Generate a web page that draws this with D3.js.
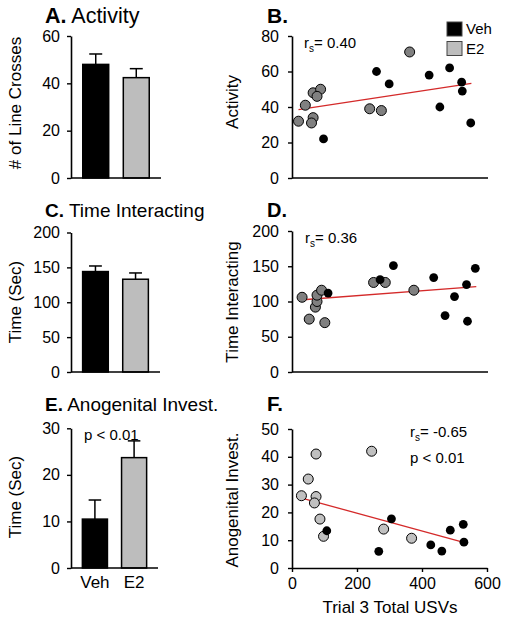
<!DOCTYPE html>
<html><head><meta charset="utf-8">
<script src="https://cdn.jsdelivr.net/npm/d3@7"></script>
<style>
body{margin:0;background:#fff;}
svg{display:block;font-family:"Liberation Sans",Arial,Helvetica,sans-serif;}
</style></head>
<body>
<script>
// ---------- data ----------
const groups = ["Veh", "E2"];
const activityMean = [48, 42.4];
const activitySem = [4.4, 3.8];
const interactMean = [144, 133];
const interactSem = [8, 9];
const anogenMean = [10.5, 23.7];
const anogenSem = [4.1, 3.6];

const yTicksA = [0, 20, 40, 60];
const yTicksC = [0, 50, 100, 150, 200];
const yTicksE = [0, 10, 20, 30];
const yTicksB = [0, 20, 40, 60, 80];
const yTicksD = [0, 50, 100, 150, 200];
const yTicksF = [0, 10, 20, 30, 40, 50];
const xTicksUSV = [0, 200, 400, 600];

// Activity vs USVs
const e2X_B = [20, 41, 65, 88, 77, 65, 60, 239, 275, 362];
const e2Y_B = [32, 41, 48, 50, 46, 34, 31, 39, 38, 71];
const vehX_B = [97, 260, 299, 422, 455, 485, 522, 524, 550];
const vehY_B = [22, 60, 53, 58, 40, 62, 54, 49, 31];
const fitX_B = [20, 552], fitY_B = [38.5, 53.3];

// Time interacting vs USVs
const e2X_D = [31, 53, 72, 77, 77, 91, 101, 251, 287, 375];
const e2Y_D = [106, 75, 92, 100, 109, 116, 70, 127, 127, 116];
const vehX_D = [111, 271, 312, 436, 471, 500, 537, 540, 564];
const vehY_D = [112, 131, 151, 134, 80, 107, 124, 72, 147];
const fitX_D = [34, 567], fitY_D = [102.5, 121];

// Anogenital investigation vs USVs
const e2X_F = [29, 50, 74, 74, 69, 86, 97, 245, 282, 368];
const e2Y_F = [26, 32, 41, 25.7, 23.4, 17.6, 11.4, 42, 14, 10.7];
const vehX_F = [107, 267, 306, 427, 461, 487, 527, 529];
const vehY_F = [13.4, 6, 17.7, 8.3, 6.1, 13.6, 15.7, 9.3];
const fitX_F = [13, 528], fitY_F = [25.7, 9.2];

// ---------- drawing ----------
const W = 507, H = 621;
const svg = d3.select("body").append("svg").attr("width", W).attr("height", H);
const FONT_TICK = 16, FONT_LABEL = 17;
const BAR_FILL = ["#000000", "#bdbdbd"];

function title(x, y, letter, text, size) {
  const t = svg.append("text").attr("x", x).attr("y", y).attr("font-size", size).attr("fill", "#000");
  t.append("tspan").attr("font-weight", "bold").text(letter);
  if (text) t.append("tspan").text(" " + text);
}

function yLabel(x, cy, text) {
  svg.append("text").attr("transform", `translate(${x},${cy}) rotate(-90)`)
    .attr("text-anchor", "middle").attr("font-size", FONT_LABEL).text(text);
}

function styleAxis(g) {
  g.selectAll("path.domain").attr("stroke", "#000").attr("stroke-width", 1.6);
  g.selectAll(".tick line").attr("stroke", "#000").attr("stroke-width", 1.4);
  g.selectAll(".tick text").attr("font-size", FONT_TICK).attr("fill", "#000")
    .attr("font-family", "Liberation Sans, Arial, sans-serif");
}

function barPanel(cfg) {
  const y = d3.scaleLinear().domain(cfg.yDomain).range([cfg.bottom, cfg.top]);
  const x = d3.scaleBand().domain(groups).range([cfg.left, cfg.right]).paddingInner(0.36).paddingOuter(0.29);
  const g = svg.append("g");
  g.selectAll("rect.bar").data(groups).join("rect")
    .attr("x", d => x(d)).attr("width", x.bandwidth())
    .attr("y", (d, i) => y(cfg.mean[i])).attr("height", (d, i) => y(0) - y(cfg.mean[i]))
    .attr("fill", (d, i) => BAR_FILL[i]).attr("stroke", "#000").attr("stroke-width", 1.5);
  groups.forEach((d, i) => {
    const cx = x(d) + x.bandwidth() / 2;
    const cap = x.bandwidth() / 4;
    g.append("line").attr("x1", cx).attr("x2", cx)
      .attr("y1", y(cfg.mean[i])).attr("y2", y(cfg.mean[i] + cfg.sem[i]))
      .attr("stroke", "#000").attr("stroke-width", 1.5);
    g.append("line").attr("x1", cx - cap).attr("x2", cx + cap)
      .attr("y1", y(cfg.mean[i] + cfg.sem[i])).attr("y2", y(cfg.mean[i] + cfg.sem[i]))
      .attr("stroke", "#000").attr("stroke-width", 1.5);
  });
  const ya = svg.append("g").attr("transform", `translate(${cfg.left},0)`)
    .call(d3.axisLeft(y).tickValues(cfg.ticks).tickSize(4).tickSizeOuter(0).tickPadding(7));
  styleAxis(ya);
  svg.append("line").attr("x1", cfg.left).attr("x2", cfg.right).attr("y1", y(0)).attr("y2", y(0))
    .attr("stroke", "#000").attr("stroke-width", 1.6);
  if (cfg.xLabels) {
    svg.append("g").selectAll("text").data(groups).join("text")
      .attr("x", d => x(d) + x.bandwidth() / 2).attr("y", cfg.bottom + 20)
      .attr("text-anchor", "middle").attr("font-size", FONT_LABEL).text(d => d);
  }
  return { x, y };
}

const xUSV = d3.scaleLinear().domain([0, 600]).range([292, 487]);

function rsText(x, y, value) {
  const t = svg.append("text").attr("x", x).attr("y", y).attr("font-size", 15);
  t.append("tspan").text("r");
  t.append("tspan").attr("font-size", 10).attr("dy", 4).text("s");
  t.append("tspan").attr("dy", -4).text("= " + value);
}

function scatterPanel(cfg) {
  const y = d3.scaleLinear().domain(cfg.yDomain).range([cfg.bottom, cfg.top]);
  svg.append("line")
    .attr("x1", xUSV(cfg.fitX[0])).attr("y1", y(cfg.fitY[0]))
    .attr("x2", xUSV(cfg.fitX[1])).attr("y2", y(cfg.fitY[1]))
    .attr("stroke", "#d42a2a").attr("stroke-width", 1.3);
  svg.append("g").selectAll("circle").data(cfg.e2X).join("circle")
    .attr("cx", d => xUSV(d)).attr("cy", (d, i) => y(cfg.e2Y[i])).attr("r", 5)
    .attr("fill", cfg.grayFill).attr("stroke", "#000").attr("stroke-width", 1);
  svg.append("g").selectAll("circle").data(cfg.vehX).join("circle")
    .attr("cx", d => xUSV(d)).attr("cy", (d, i) => y(cfg.vehY[i])).attr("r", 4.4)
    .attr("fill", "#000");
  const ya = svg.append("g").attr("transform", "translate(292,0)")
    .call(d3.axisLeft(y).tickValues(cfg.ticks).tickSize(4).tickSizeOuter(0).tickPadding(9));
  styleAxis(ya);
  if (cfg.xTicks) {
    const xa = svg.append("g").attr("transform", `translate(0,${cfg.bottom})`)
      .call(d3.axisBottom(xUSV).tickValues(cfg.xTicks).tickSize(4).tickSizeOuter(0).tickPadding(6));
    styleAxis(xa);
  } else {
    svg.append("line").attr("x1", 292).attr("x2", 488).attr("y1", cfg.bottom).attr("y2", cfg.bottom)
      .attr("stroke", "#000").attr("stroke-width", 1.6);
  }
  return y;
}

// Row 1
title(45, 23, "A.", "Activity", 21.5);
yLabel(21, 103, "# of Line Crosses");
barPanel({ yDomain: [0, 60], top: 36, bottom: 178, left: 71, right: 161, mean: activityMean, sem: activitySem, ticks: yTicksA });

title(267, 23, "B.", "", 21);
yLabel(238, 102, "Activity");
scatterPanel({ yDomain: [0, 80], top: 36, bottom: 178, ticks: yTicksB, e2X: e2X_B, e2Y: e2Y_B, vehX: vehX_B, vehY: vehY_B,
  fitX: fitX_B, fitY: fitY_B, grayFill: "#808080" });
rsText(304, 48, "0.40");

const legend = svg.append("g");
legend.selectAll("rect").data(groups).join("rect")
  .attr("x", 447).attr("y", (d, i) => 22 + i * 19.5).attr("width", 15).attr("height", 14)
  .attr("fill", (d, i) => BAR_FILL[i]).attr("stroke", "#444").attr("stroke-width", 1);
legend.selectAll("text").data(groups).join("text")
  .attr("x", 466).attr("y", (d, i) => 34 + i * 19.5).attr("font-size", 15).text(d => d);

// Row 2
title(45, 217, "C.", "Time Interacting", 19);
yLabel(21, 302, "Time (Sec)");
barPanel({ yDomain: [0, 200], top: 232.5, bottom: 372, left: 71, right: 160, mean: interactMean, sem: interactSem, ticks: yTicksC });

title(267, 217, "D.", "", 20);
yLabel(238, 302, "Time Interacting");
scatterPanel({ yDomain: [0, 200], top: 231, bottom: 372, ticks: yTicksD, e2X: e2X_D, e2Y: e2Y_D, vehX: vehX_D, vehY: vehY_D,
  fitX: fitX_D, fitY: fitY_D, grayFill: "#808080" });
rsText(305, 243, "0.36");

// Row 3
title(45, 411, "E.", "Anogenital Invest.", 19);
yLabel(21, 497, "Time (Sec)");
barPanel({ yDomain: [0, 30], top: 428.3, bottom: 568, left: 71, right: 158, mean: anogenMean, sem: anogenSem, ticks: yTicksE, xLabels: true });
svg.append("text").attr("x", 84).attr("y", 440).attr("font-size", 15).text("p < 0.01");

title(267, 411, "F.", "", 20.5);
yLabel(238, 500, "Anogenital Invest.");
scatterPanel({ yDomain: [0, 50], top: 429, bottom: 568, ticks: yTicksF, xTicks: xTicksUSV, e2X: e2X_F, e2Y: e2Y_F, vehX: vehX_F, vehY: vehY_F,
  fitX: fitX_F, fitY: fitY_F, grayFill: "#c0c0c0" });
rsText(410, 437, "-0.65");
svg.append("text").attr("x", 410).attr("y", 463).attr("font-size", 15).text("p < 0.01");
svg.append("text").attr("x", 390).attr("y", 613).attr("text-anchor", "middle").attr("font-size", FONT_LABEL).text("Trial 3 Total USVs");
</script>
</body></html>
